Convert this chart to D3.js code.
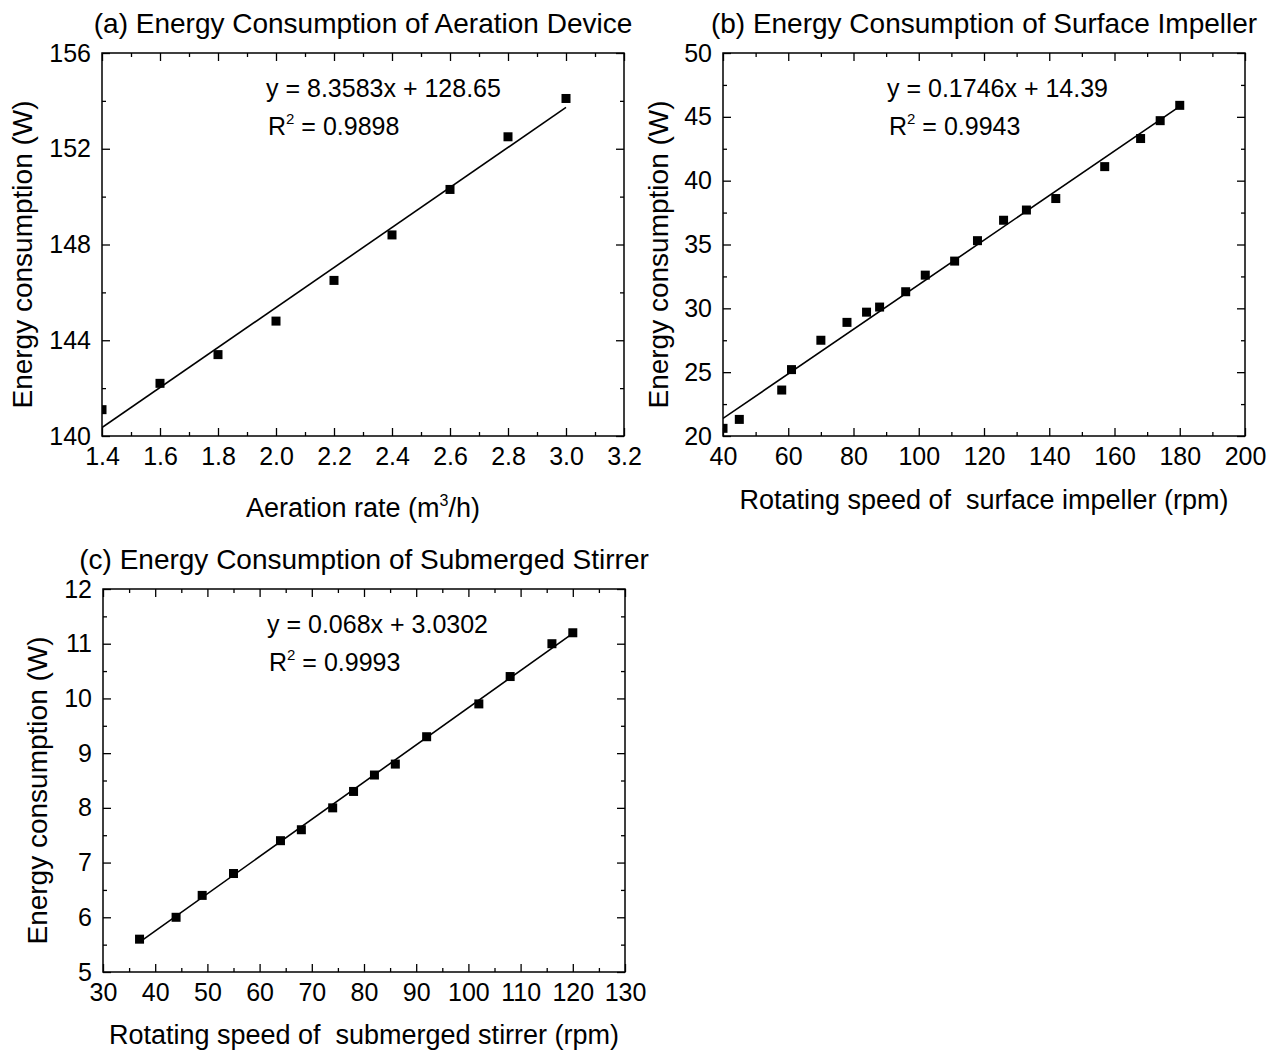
<!DOCTYPE html>
<html>
<head>
<meta charset="utf-8">
<script src="https://d3js.org/d3.v7.min.js"></script>
<style>
  body { margin: 0; background: #fff; }
  svg text { font-family: Arial, "Liberation Sans", sans-serif; fill: #000; }
</style>
</head>
<body>
<div id="chart"></div>
<script>
// (a) aeration device
const aerationRate = [1.4, 1.6, 1.8, 2.0, 2.2, 2.4, 2.6, 2.8, 3.0];
const aerationEnergy = [141.1, 142.2, 143.4, 144.8, 146.5, 148.4, 150.3, 152.5, 154.1];
const aerationXTicks = [1.4, 1.6, 1.8, 2.0, 2.2, 2.4, 2.6, 2.8, 3.0, 3.2];
const aerationYTicks = [140, 144, 148, 152, 156];
const aerationFit = { slope: 8.3583, intercept: 128.65, r2: "0.9898" };

// (b) surface impeller
const impellerSpeed = [40, 45, 58, 61, 70, 78, 84, 88, 96, 102, 111, 118, 126, 133, 142, 157, 168, 174, 180];
const impellerEnergy = [20.6, 21.3, 23.6, 25.2, 27.5, 28.9, 29.7, 30.1, 31.3, 32.6, 33.7, 35.3, 36.9, 37.7, 38.6, 41.1, 43.3, 44.7, 45.9];
const impellerXTicks = [40, 60, 80, 100, 120, 140, 160, 180, 200];
const impellerYTicks = [20, 25, 30, 35, 40, 45, 50];
const impellerFit = { slope: 0.1746, intercept: 14.39, r2: "0.9943" };

// (c) submerged stirrer
const stirrerSpeed = [37, 44, 49, 55, 64, 68, 74, 78, 82, 86, 92, 102, 108, 116, 120];
const stirrerEnergy = [5.6, 6.0, 6.4, 6.8, 7.4, 7.6, 8.0, 8.3, 8.6, 8.8, 9.3, 9.9, 10.4, 11.0, 11.2];
const stirrerXTicks = [30, 40, 50, 60, 70, 80, 90, 100, 110, 120, 130];
const stirrerYTicks = [5, 6, 7, 8, 9, 10, 11, 12];
const stirrerFit = { slope: 0.068, intercept: 3.0302, r2: "0.9993" };

const svg = d3.select("#chart")
  .append("svg")
  .attr("width", 1270)
  .attr("height", 1055);

svg.append("rect").attr("width", 1270).attr("height", 1055).attr("fill", "#fff");

const W = 522, H = 383;

function minorTicks(ticks) {
  const out = [];
  for (let i = 0; i < ticks.length - 1; i++) out.push((ticks[i] + ticks[i + 1]) / 2);
  return out;
}

function drawPanel(p) {
  const g = svg.append("g").attr("transform", `translate(${p.left},${p.top})`);

  const x = d3.scaleLinear().domain(d3.extent(p.xTicks)).range([0, W]);
  const y = d3.scaleLinear().domain(d3.extent(p.yTicks)).range([H, 0]);
  const xMinor = minorTicks(p.xTicks);
  const yMinor = minorTicks(p.yTicks);

  const clipId = "clip-" + p.id;
  g.append("clipPath").attr("id", clipId)
    .append("rect").attr("width", W).attr("height", H);

  // ticks on all four sides, pointing in
  const axes = [
    [d3.axisBottom(x), `translate(0,${H})`, p.xTicks, xMinor, p.xFmt],
    [d3.axisTop(x), null, p.xTicks, xMinor, null],
    [d3.axisLeft(y), null, p.yTicks, yMinor, p.yFmt],
    [d3.axisRight(y), `translate(${W},0)`, p.yTicks, yMinor, null]
  ];
  axes.forEach(([ax, tr, major, minor, fmt]) => {
    const major_g = g.append("g")
      .call(ax.tickValues(major).tickSizeInner(-8).tickSizeOuter(0).tickPadding(fmt ? 11 : 0)
        .tickFormat(fmt || ""));
    const minor_g = g.append("g")
      .call(ax.tickValues(minor).tickSizeInner(-4).tickSizeOuter(0).tickFormat(""));
    [major_g, minor_g].forEach(s => {
      if (tr) s.attr("transform", tr);
      s.select(".domain").remove();
      s.selectAll("line").attr("stroke", "#000").attr("stroke-width", 1.3);
      s.selectAll("text").style("font-size", "25px").attr("fill", "#000");
    });
  });

  g.append("rect")
    .attr("width", W).attr("height", H)
    .attr("fill", "none").attr("stroke", "#000").attr("stroke-width", 1.5);

  const marks = g.append("g").attr("clip-path", `url(#${clipId})`);

  const xs = d3.extent(p.xData);
  marks.append("line")
    .attr("x1", x(xs[0])).attr("y1", y(p.fit.slope * xs[0] + p.fit.intercept))
    .attr("x2", x(xs[1])).attr("y2", y(p.fit.slope * xs[1] + p.fit.intercept))
    .attr("stroke", "#000").attr("stroke-width", 1.6);

  marks.selectAll("rect.pt")
    .data(p.xData.map((d, i) => [d, p.yData[i]]))
    .join("rect")
    .attr("class", "pt")
    .attr("x", d => x(d[0]) - 4.5)
    .attr("y", d => y(d[1]) - 4.5)
    .attr("width", 9).attr("height", 9)
    .attr("fill", "#000");

  // equation and R^2
  g.append("text")
    .attr("x", 164).attr("y", 44)
    .style("font-size", "25px")
    .text(`y = ${p.fit.slope}x + ${p.fit.intercept}`);
  const r2 = g.append("text")
    .attr("x", 166).attr("y", 82)
    .style("font-size", "25px");
  r2.append("tspan").text("R");
  r2.append("tspan").attr("dy", -11).style("font-size", "15px").text("2");
  r2.append("tspan").attr("dy", 11).text(" = " + p.fit.r2);

  // panel title
  svg.append("text")
    .attr("x", p.left + W / 2).attr("y", p.top - 20)
    .attr("text-anchor", "middle")
    .style("font-size", "28px")
    .text(p.title);

  // x axis title
  const xt = svg.append("text")
    .attr("x", p.left + W / 2).attr("y", p.xTitleY)
    .attr("text-anchor", "middle")
    .style("font-size", "27px");
  xt.append("tspan").text(p.xTitle);
  if (p.xTitleSup) {
    xt.append("tspan").attr("dy", -11).style("font-size", "16px").text(p.xTitleSup);
    xt.append("tspan").attr("dy", 11).text(p.xTitleEnd);
  }

  // y axis title
  svg.append("text")
    .attr("transform", `translate(${p.yTitleX},${p.top + H / 2 + 10}) rotate(-90)`)
    .attr("text-anchor", "middle")
    .style("font-size", "28px")
    .text("Energy consumption (W)");
}

drawPanel({
  id: "a", left: 102, top: 53,
  xTicks: aerationXTicks, yTicks: aerationYTicks,
  xData: aerationRate, yData: aerationEnergy, fit: aerationFit,
  xFmt: d3.format(".1f"), yFmt: d3.format("d"),
  title: "(a) Energy Consumption of Aeration Device",
  xTitle: "Aeration rate (m", xTitleSup: "3", xTitleEnd: "/h)",
  xTitleY: 517, yTitleX: 32
});

drawPanel({
  id: "b", left: 723, top: 53,
  xTicks: impellerXTicks, yTicks: impellerYTicks,
  xData: impellerSpeed, yData: impellerEnergy, fit: impellerFit,
  xFmt: d3.format("d"), yFmt: d3.format("d"),
  title: "(b) Energy Consumption of Surface Impeller",
  xTitle: "Rotating speed of \u00a0surface impeller (rpm)",
  xTitleY: 509, yTitleX: 668
});

drawPanel({
  id: "c", left: 103, top: 589,
  xTicks: stirrerXTicks, yTicks: stirrerYTicks,
  xData: stirrerSpeed, yData: stirrerEnergy, fit: stirrerFit,
  xFmt: d3.format("d"), yFmt: d3.format("d"),
  title: "(c) Energy Consumption of Submerged Stirrer",
  xTitle: "Rotating speed of \u00a0submerged stirrer (rpm)",
  xTitleY: 1044, yTitleX: 47
});
</script>
</body>
</html>
